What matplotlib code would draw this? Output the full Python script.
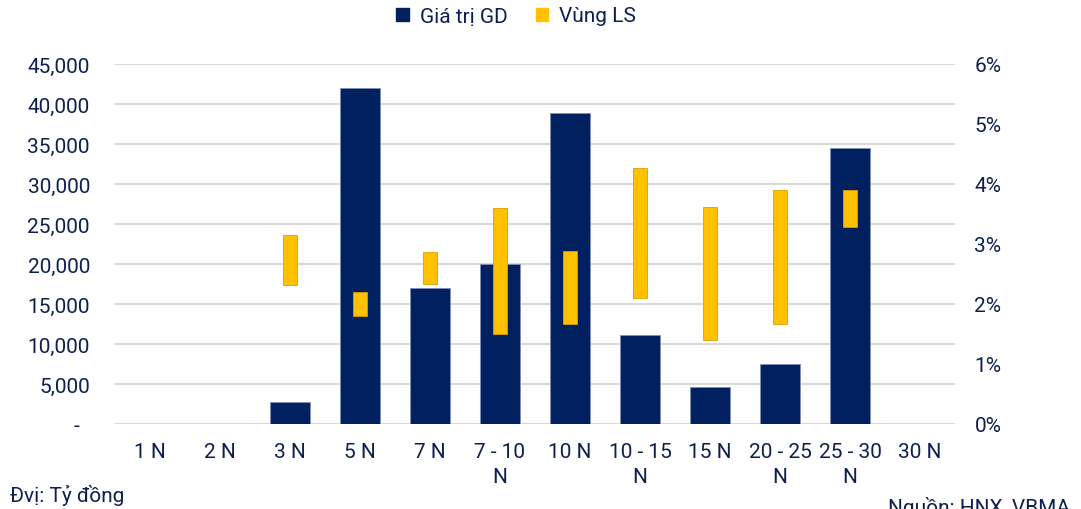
import matplotlib
matplotlib.use("Agg")
import matplotlib.pyplot as plt
from matplotlib.patches import Patch
from matplotlib.ticker import FuncFormatter, MultipleLocator
import numpy as np

plt.rcParams['font.family'] = ['Roboto', 'DejaVu Sans']

categories = ["1 N", "2 N", "3 N", "5 N", "7 N", "7 - 10\nN", "10 N", "10 - 15\nN",
              "15 N", "20 - 25\nN", "25 - 30\nN", "30 N"]
gia_tri_gd = [0, 0, 2750, 42000, 17000, 20000, 38900, 11100, 4600, 7500, 34500, 0]
ls_low = [np.nan, np.nan, 2.32, 1.80, 2.33, 1.50, 1.66, 2.10, 1.40, 1.66, 3.29, np.nan]
ls_high = [np.nan, np.nan, 3.15, 2.20, 2.86, 3.60, 2.89, 4.26, 3.62, 3.90, 3.90, np.nan]

NAVY = "#002060"
YELLOW = "#FFC000"
TEXT = "#0E1F4F"
GRID = "#D9D9D9"
FS = 15

fig = plt.figure(figsize=(10.81, 5.10), dpi=100)
ax = fig.add_axes([115/1081, 1-425/510, 840/1081, 360/510])
x = np.arange(len(categories))

ax.bar(x, gia_tri_gd, width=0.57, color=NAVY, edgecolor="#8090B8", linewidth=0.6, zorder=2)
ax.set_ylim(0, 45000)
ax.set_xlim(-0.5, len(categories) - 0.5)
ax.yaxis.set_major_locator(MultipleLocator(5000))
ax.yaxis.set_major_formatter(FuncFormatter(lambda v, p: "-  " if v == 0 else f"{int(v):,}"))
ax.grid(axis="y", color=GRID, linewidth=1.5, zorder=0)
ax.set_axisbelow(True)
for s in ax.spines.values():
    s.set_visible(False)
ax.set_xticks(x)
ax.set_xticklabels(categories, fontsize=FS, color=TEXT, linespacing=1.4)

ax2 = ax.twinx()
lo = np.array(ls_low)
hi = np.array(ls_high)
ax2.bar(x, hi - lo, bottom=lo, width=0.19, color=YELLOW, edgecolor="#D9A000",
        linewidth=0.6, zorder=3)
ax2.set_ylim(0, 6)
ax2.yaxis.set_major_locator(MultipleLocator(1))
ax2.yaxis.set_major_formatter(FuncFormatter(lambda v, p: f"{int(round(v))}%"))
for s in ax2.spines.values():
    s.set_visible(False)

ax.tick_params(axis="x", length=0, pad=13)
ax.tick_params(axis="y", length=0, pad=18, labelsize=FS, labelcolor=TEXT)
ax2.tick_params(axis="y", length=0, pad=14, labelsize=FS, labelcolor=TEXT)

handles = [Patch(color=NAVY, label="Giá trị GD"), Patch(color=YELLOW, label="Vùng LS")]
fig.legend(handles=handles, loc="center", bbox_to_anchor=(516/1081, 1-17/510), ncol=2,
           frameon=False, fontsize=FS, labelcolor=TEXT, handlelength=0.58,
           handleheight=0.58, handletextpad=0.53, columnspacing=1.35)

fig.text(10/1081, 1-496/510, "Đvị: Tỷ đồng", fontsize=FS, color=TEXT, va="center", ha="left")
fig.text(888/1081, 1-508/510, "Nguồn: HNX, VBMA", fontsize=FS, color=TEXT, va="center", ha="left")

fig.savefig("out.png", dpi=100)
